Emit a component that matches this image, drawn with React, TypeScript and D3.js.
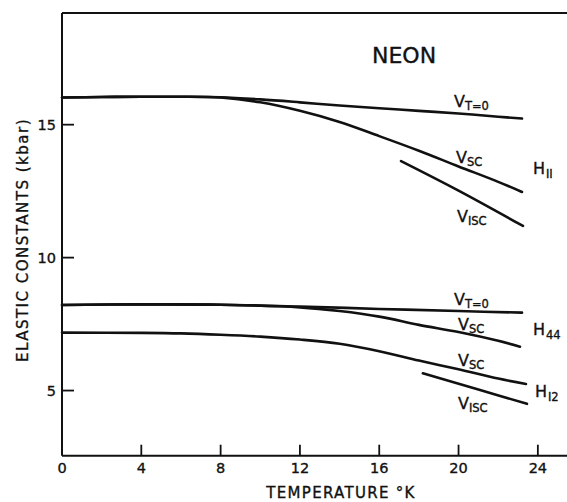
import React from "react";
import * as d3 from "d3";

// ---- data (temperature in K, elastic constants in kbar) ----
const h11VT0 = [[0,16.02],[2,16.04],[4,16.05],[6,16.05],[8,16.03],[10,15.95],[12,15.84],[14,15.72],[16,15.62],[18,15.52],[20,15.42],[22,15.3],[23.2,15.23]];
const h11VSC = [[0,16.02],[2,16.04],[4,16.05],[6,16.05],[8,16.02],[10,15.84],[12,15.52],[14,15.1],[16,14.57],[18,14.02],[20,13.43],[22,12.85],[23.2,12.47]];
const h11VISC = [[17.1,13.63],[20,12.52],[23.25,11.19]];
const h44VT0 = [[0,8.22],[4,8.24],[8,8.23],[12,8.16],[16,8.07],[20,7.99],[23.2,7.93]];
const h44VSC = [[0,8.22],[4,8.24],[8,8.23],[12,8.13],[14,7.99],[16,7.78],[18,7.47],[20,7.2],[22,6.87],[23.1,6.65]];
const h12VSC = [[0,7.18],[4,7.17],[6,7.15],[8,7.1],[10,7.03],[12,6.92],[14,6.76],[16,6.48],[18,6.13],[20,5.8],[22,5.45],[23.4,5.25]];
const h12VISC = [[18.2,5.65],[21,5.04],[23.45,4.5]];
const curves = [h11VT0, h11VSC, h11VISC, h44VT0, h44VSC, h12VSC, h12VISC];

const xTicks = [4, 8, 12, 16, 20, 24];
const xTickLabels = [0, 4, 8, 12, 16, 20, 24];
const yTicks = [5, 10, 15];

// labels: [t, v, main, subscript]
const curveLabels: [number, number, string, string][] = [
  [19.77, 15.66, "V", "T=0"],
  [19.87, 13.56, "V", "SC"],
  [19.92, 11.33, "V", "ISC"],
  [19.77, 8.22, "V", "T=0"],
  [19.97, 7.27, "V", "SC"],
  [19.97, 5.93, "V", "SC"],
  [19.97, 4.32, "V", "ISC"],
];
const groupLabels: [number, number, string, string][] = [
  [23.75, 13.15, "H", "II"],
  [23.75, 7.1, "H", "44"],
  [23.85, 4.76, "H", "I2"],
];

export default function App() {
  const W = 567, H = 502;
  const x = d3.scaleLinear().domain([0, 25.47]).range([62, 567]);
  const y = d3.scaleLinear().domain([2.55, 19.2]).range([455.7, 13]);
  const line = d3.line<number[]>().x(d => x(d[0])).y(d => y(d[1])).curve(d3.curveCatmullRom.alpha(0.5));
  const font = "'DejaVu Sans', 'Liberation Sans', sans-serif";
  const ink = "#111";
  const ts = { fill: ink, stroke: ink, strokeWidth: 0.35 };
  return (
    <svg width={W} height={H} style={{ position: "absolute", left: 0, top: 0, background: "#fff" }} fontFamily={font}>
      {/* frame */}
      <line x1={x(0)} x2={W} y1={y(19.2)} y2={y(19.2)} stroke={ink} strokeWidth={2} />
      <line x1={x(0)} x2={W} y1={y(2.55)} y2={y(2.55)} stroke={ink} strokeWidth={2} />
      <line x1={x(0)} x2={x(0)} y1={y(19.2)} y2={y(2.55)} stroke={ink} strokeWidth={2} />
      {xTicks.map(t => (
        <line key={t} x1={x(t)} x2={x(t)} y1={y(2.55)} y2={y(2.55) - 11} stroke={ink} strokeWidth={1.8} />
      ))}
      {yTicks.map(v => (
        <line key={v} x1={x(0)} x2={x(0) + 12} y1={y(v)} y2={y(v)} stroke={ink} strokeWidth={1.8} />
      ))}
      {xTickLabels.map(t => (
        <text key={t} x={x(t)} y={473} textAnchor="middle" fontSize={14.5} {...ts}>{t}</text>
      ))}
      {yTicks.map(v => (
        <text key={v} x={56} y={y(v) + 5.5} textAnchor="end" fontSize={14.5} {...ts}>{v}</text>
      ))}
      <text x={341} y={498} textAnchor="middle" fontSize={15} letterSpacing={1.3} {...ts}>TEMPERATURE °K</text>
      <text transform={`translate(28,240) rotate(-90)`} textAnchor="middle" fontSize={15} letterSpacing={1.5} {...ts}>ELASTIC CONSTANTS (kbar)</text>
      <text x={372} y={63} fontSize={22} {...ts}>NEON</text>
      {curves.map((c, i) => (
        <path key={i} d={line(c) || ""} fill="none" stroke={ink} strokeWidth={2.6} strokeLinecap="round" />
      ))}
      {curveLabels.map(([t, v, m, s], i) => (
        <text key={i} x={x(t)} y={y(v)} fontSize={16} {...ts}>
          {m}<tspan fontSize={11.5} dy={3}>{s}</tspan>
        </text>
      ))}
      {groupLabels.map(([t, v, m, s], i) => (
        <text key={i} x={x(t)} y={y(v)} fontSize={16} {...ts}>
          {m}<tspan fontSize={11.5} dy={4} dx={1}>{s}</tspan>
        </text>
      ))}
    </svg>
  );
}
